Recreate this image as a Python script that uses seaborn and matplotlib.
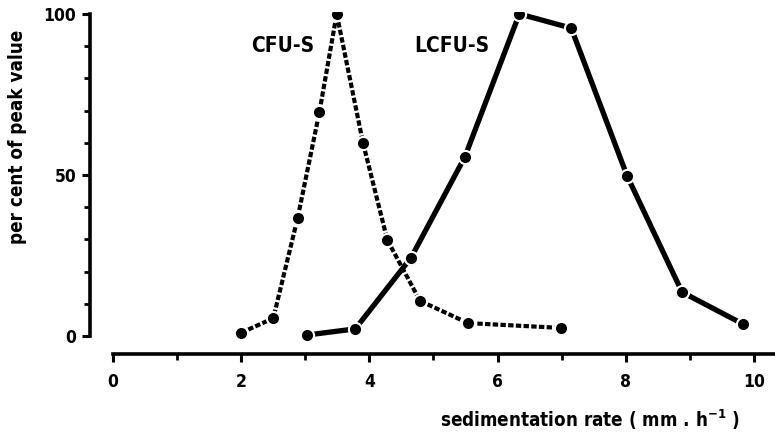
import matplotlib
matplotlib.use("Agg")
import matplotlib.pyplot as plt
import seaborn as sns
import pandas as pd
from matplotlib.ticker import MultipleLocator, FixedLocator

# data
cfu_x = [2.0, 2.5, 2.88, 3.22, 3.49, 3.9, 4.28, 4.79, 5.54, 6.99]
cfu_y = [1.0, 5.5, 36.6, 69.5, 100.0, 60.0, 29.8, 10.9, 4.0, 2.5]
lcfu_x = [3.03, 3.78, 4.65, 5.49, 6.34, 7.15, 8.02, 8.88, 9.83]
lcfu_y = [0.3, 2.2, 24.3, 55.6, 100.0, 95.6, 49.8, 13.6, 3.7]
series_labels = ["CFU-S", "LCFU-S"]
x_ticks = [0, 2, 4, 6, 8, 10]
y_ticks = [0, 50, 100]

sns.set_style("ticks")
plt.rcParams["font.family"] = ["DejaVu Sans"]
plt.rcParams["font.stretch"] = "condensed"
plt.rcParams["font.weight"] = "bold"
plt.rcParams["mathtext.default"] = "regular"
for k in ["text.color", "axes.labelcolor", "xtick.color", "ytick.color", "axes.edgecolor"]:
    plt.rcParams[k] = "black"

W, H = 775, 434
fig = plt.figure(figsize=(W / 100, H / 100), dpi=100)
# axes placed in pixel coordinates
left_px, right_px, top_px, bottom_px = 90, 775, 12, 354
ax = fig.add_axes([left_px / W, 1 - bottom_px / H, (right_px - left_px) / W, (bottom_px - top_px) / H])

df_cfu = pd.DataFrame({"x": cfu_x, "y": cfu_y})
df_lcfu = pd.DataFrame({"x": lcfu_x, "y": lcfu_y})

sns.lineplot(data=df_cfu, x="x", y="y", ax=ax, color="black", linewidth=3.0,
             linestyle=(0, (1.3, 0.55)), marker="o", markersize=9.5,
             markeredgecolor="white", markeredgewidth=1.5, sort=False)
sns.lineplot(data=df_lcfu, x="x", y="y", ax=ax, color="black", linewidth=3.8,
             linestyle="-", marker="o", markersize=9.5,
             markeredgecolor="white", markeredgewidth=1.5, sort=False)

ax.set_xlim(-0.36, 10.33)
ax.set_ylim(-5.6, 100.6)

for s in ["top", "right"]:
    ax.spines[s].set_visible(False)
ax.spines["left"].set_bounds(0, 100)
ax.spines["bottom"].set_bounds(0, 10.33)
ax.spines["left"].set_linewidth(2.6)
ax.spines["bottom"].set_linewidth(2.6)

ax.xaxis.set_major_locator(FixedLocator(x_ticks))
ax.xaxis.set_minor_locator(FixedLocator([1, 3, 5, 7, 9]))
ax.yaxis.set_major_locator(FixedLocator(y_ticks))
ax.yaxis.set_minor_locator(MultipleLocator(10))
ax.set_xticklabels([str(v) for v in x_ticks])
ax.set_yticklabels([str(v) for v in y_ticks])

ax.tick_params(axis="both", which="major", length=6, width=2.2, labelsize=12.5, pad=8)
ax.tick_params(axis="both", which="minor", length=4, width=2.0)
ax.tick_params(axis="y", which="major", pad=4)

ax.set_xlabel("sedimentation rate ( mm . h$^{-1}$ )", fontsize=13.5, fontweight="bold")
ax.xaxis.set_label_coords((590 - left_px) / (right_px - left_px), -(408 - bottom_px) / (bottom_px - top_px))
ax.set_ylabel("per cent of peak value", fontsize=13.5, fontweight="bold")
ax.yaxis.set_label_coords(-(left_px - 27) / (right_px - left_px), (bottom_px - 137) / (bottom_px - top_px))

ax.text(2.15, 90, series_labels[0], fontsize=15, fontweight="bold", ha="left", va="center")
ax.text(4.7, 90, series_labels[1], fontsize=15, fontweight="bold", ha="left", va="center")

fig.savefig("out.png", dpi=100)
